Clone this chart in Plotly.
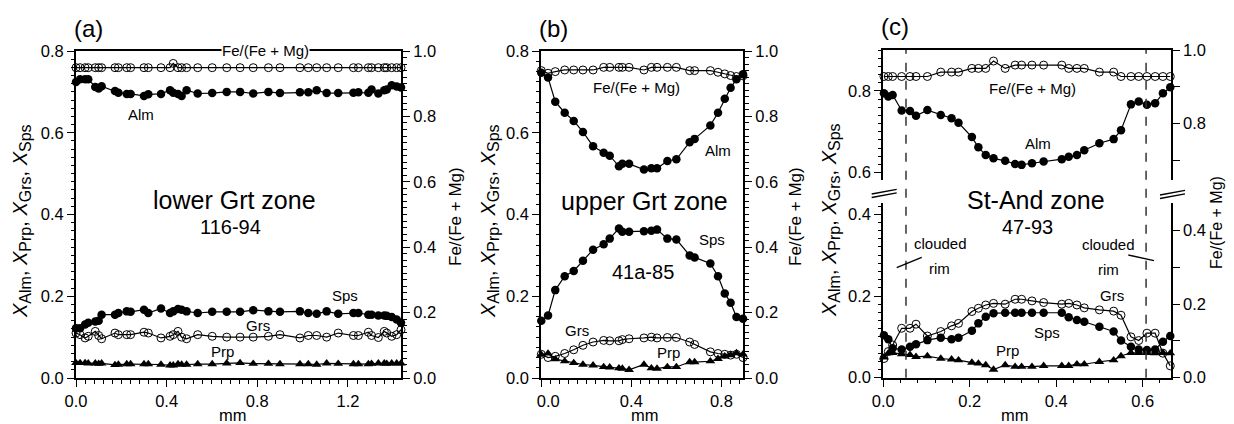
import numpy as np
import plotly.graph_objects as go

# the page body has an 8 px margin, so the figure is 8 px smaller than the window
OFF = 8
W, H = 1234 - OFF, 424 - OFF
FONT = "Liberation Sans, Arial, sans-serif"

# ---------------- data ----------------
# panel (a) lower Grt zone 116-94
x_a = [0.0, 0.018, 0.04, 0.054, 0.085, 0.1, 0.113, 0.172, 0.187, 0.224, 0.241, 0.3, 0.319, 0.375,
       0.415, 0.429, 0.45, 0.466, 0.488, 0.537, 0.601, 0.665, 0.724, 0.782, 0.849, 0.9, 0.988,
       1.025, 1.062, 1.106, 1.157, 1.224, 1.246, 1.29, 1.304, 1.334, 1.36, 1.371, 1.393, 1.415, 1.434]
alm_a = [0.724, 0.731, 0.731, 0.731, 0.712, 0.708, 0.714, 0.702, 0.698, 0.695,
         0.695, 0.690, 0.694, 0.695, 0.704, 0.698, 0.695, 0.690, 0.704, 0.696,
         0.697, 0.700, 0.700, 0.696, 0.700, 0.697, 0.699, 0.699, 0.704, 0.697,
         0.697, 0.698, 0.699, 0.698, 0.706, 0.696, 0.704, 0.706, 0.716, 0.713, 0.711]
sps_a = [0.122, 0.122, 0.131, 0.135, 0.138, 0.140, 0.155, 0.155, 0.159, 0.163,
         0.162, 0.167, 0.159, 0.170, 0.159, 0.163, 0.169, 0.167, 0.163, 0.159,
         0.162, 0.162, 0.162, 0.166, 0.163, 0.162, 0.163, 0.159, 0.157, 0.163,
         0.157, 0.159, 0.159, 0.155, 0.155, 0.153, 0.153, 0.152, 0.149, 0.143, 0.135]
grs_a = [0.110, 0.106, 0.098, 0.102, 0.114, 0.104, 0.096, 0.110, 0.106, 0.106,
         0.106, 0.112, 0.110, 0.098, 0.102, 0.106, 0.114, 0.100, 0.096, 0.106,
         0.102, 0.100, 0.100, 0.100, 0.102, 0.106, 0.098, 0.104, 0.104, 0.100,
         0.110, 0.104, 0.104, 0.112, 0.104, 0.099, 0.114, 0.110, 0.102, 0.106, 0.118]
prp_a = [0.037, 0.037, 0.037, 0.036, 0.036, 0.035, 0.036, 0.032, 0.033, 0.034,
         0.034, 0.034, 0.034, 0.033, 0.031, 0.031, 0.034, 0.033, 0.033, 0.034,
         0.034, 0.036, 0.037, 0.035, 0.035, 0.034, 0.034, 0.034, 0.033, 0.036,
         0.035, 0.034, 0.034, 0.034, 0.035, 0.036, 0.036, 0.035, 0.036, 0.036, 0.036]
fe_a = [0.949, 0.949, 0.949, 0.949, 0.949, 0.949, 0.949, 0.949, 0.949, 0.949,
        0.949, 0.949, 0.949, 0.949, 0.949, 0.962, 0.949, 0.949, 0.949, 0.949,
        0.949, 0.949, 0.949, 0.949, 0.949, 0.949, 0.949, 0.949, 0.949, 0.949,
        0.949, 0.949, 0.949, 0.949, 0.949, 0.949, 0.949, 0.949, 0.949, 0.949, 0.949]

# panel (b) upper Grt zone 41a-85
x_b = [0.0, 0.030, 0.062, 0.104, 0.144, 0.185, 0.230, 0.277, 0.304, 0.345, 0.360, 0.390, 0.456,
       0.489, 0.514, 0.560, 0.600, 0.659, 0.681, 0.751, 0.785, 0.815, 0.841, 0.867, 0.896]
alm_b = [0.747, 0.735, 0.676, 0.649, 0.629, 0.602, 0.567, 0.551, 0.544, 0.518, 0.524, 0.524, 0.510,
         0.513, 0.513, 0.531, 0.535, 0.577, 0.585, 0.618, 0.649, 0.683, 0.710, 0.731, 0.743]
sps_b = [0.140, 0.153, 0.215, 0.249, 0.262, 0.287, 0.314, 0.327, 0.341, 0.366, 0.358, 0.358, 0.359,
         0.360, 0.363, 0.341, 0.339, 0.300, 0.295, 0.280, 0.249, 0.207, 0.184, 0.149, 0.145]
grs_b = [0.058, 0.050, 0.053, 0.060, 0.069, 0.080, 0.088, 0.092, 0.091, 0.091, 0.094, 0.096, 0.098,
         0.100, 0.098, 0.099, 0.099, 0.088, 0.082, 0.064, 0.060, 0.058, 0.056, 0.058, 0.050]
prp_b = [0.057, 0.060, 0.046, 0.041, 0.037, 0.033, 0.031, 0.027, 0.026, 0.024, 0.023, 0.020, 0.033,
         0.024, 0.023, 0.027, 0.027, 0.039, 0.039, 0.041, 0.047, 0.053, 0.056, 0.061, 0.058]
fe_b = [0.940, 0.932, 0.937, 0.942, 0.942, 0.942, 0.942, 0.950, 0.950, 0.950, 0.950, 0.950, 0.942,
        0.950, 0.950, 0.950, 0.950, 0.940, 0.940, 0.940, 0.935, 0.930, 0.925, 0.922, 0.924]

# panel (c) St-And zone 47-93
x_c = [0.0015, 0.0116, 0.0216, 0.0425, 0.0618, 0.0757, 0.102, 0.133, 0.158, 0.174, 0.205, 0.220,
       0.237, 0.255, 0.282, 0.305, 0.320, 0.344, 0.371, 0.413, 0.429, 0.448, 0.465, 0.500, 0.533,
       0.550, 0.573, 0.591, 0.610, 0.629, 0.647, 0.664]
alm_c = [0.794, 0.786, 0.790, 0.752, 0.751, 0.739, 0.753, 0.741, 0.733, 0.722, 0.687, 0.662,
         0.643, 0.635, 0.629, 0.621, 0.619, 0.623, 0.627, 0.633, 0.639, 0.643, 0.655, 0.672, 0.682,
         0.704, 0.767, 0.774, 0.766, 0.770, 0.794, 0.809]
sps_c = [0.104, 0.094, 0.072, 0.069, 0.076, 0.082, 0.092, 0.098, 0.094, 0.098, 0.115, 0.133,
         0.149, 0.158, 0.159, 0.159, 0.159, 0.159, 0.159, 0.159, 0.148, 0.141, 0.137, 0.125, 0.113,
         0.091, 0.076, 0.069, 0.068, 0.069, 0.088, 0.102]
grs_c = [0.047, 0.064, 0.080, 0.121, 0.121, 0.131, 0.102, 0.113, 0.127, 0.133, 0.162, 0.170,
         0.178, 0.182, 0.180, 0.192, 0.192, 0.188, 0.184, 0.180, 0.182, 0.178, 0.171, 0.166, 0.163,
         0.153, 0.100, 0.091, 0.109, 0.109, 0.060, 0.029]
prp_c = [0.050, 0.060, 0.061, 0.058, 0.056, 0.051, 0.053, 0.047, 0.045, 0.043, 0.037, 0.035,
         0.031, 0.020, 0.031, 0.027, 0.027, 0.027, 0.029, 0.029, 0.029, 0.033, 0.033, 0.039, 0.043,
         0.053, 0.061, 0.061, 0.061, 0.060, 0.061, 0.060]
fe_c = [0.928, 0.928, 0.928, 0.928, 0.928, 0.928, 0.928, 0.940, 0.940, 0.940, 0.950, 0.950,
        0.950, 0.970, 0.950, 0.959, 0.959, 0.959, 0.959, 0.959, 0.950, 0.950, 0.950, 0.940, 0.940,
        0.928, 0.928, 0.928, 0.928, 0.928, 0.928, 0.928]
rim_bounds_c = [0.0525, 0.608]

# ---------------- helpers (window pixel -> paper fraction) ----------------
def PX(x):
    return (x - OFF) / W


def PY(y):
    return 1 - (y - OFF) / H


FILLED = dict(symbol="circle", size=8.5, color="black")
OPEN = dict(symbol="circle-open", size=8, color="black", line=dict(width=1, color="black"))
TRI = dict(symbol="triangle-up", size=8.5, color="black")

fig = go.Figure()


def add(xs, ys, xa, ya, marker):
    fig.add_trace(go.Scatter(x=xs, y=ys, xaxis=xa, yaxis=ya, mode="lines+markers",
                             line=dict(color="black", width=1.2), marker=marker,
                             cliponaxis=False, showlegend=False, hoverinfo="skip"))


add(x_a, fe_a, "x", "y2", OPEN)
add(x_a, alm_a, "x", "y", FILLED)
add(x_a, grs_a, "x", "y", OPEN)
add(x_a, sps_a, "x", "y", FILLED)
add(x_a, prp_a, "x", "y", TRI)

add(x_b, fe_b, "x2", "y4", OPEN)
add(x_b, alm_b, "x2", "y3", FILLED)
add(x_b, grs_b, "x2", "y3", OPEN)
add(x_b, sps_b, "x2", "y3", FILLED)
add(x_b, prp_b, "x2", "y3", TRI)

add(x_c, fe_c, "x3", "y6", OPEN)
add(x_c, alm_c, "x3", "y5", FILLED)
add(x_c, grs_c, "x4", "y7", OPEN)
add(x_c, sps_c, "x4", "y7", FILLED)
add(x_c, prp_c, "x4", "y7", TRI)
# empty trace so that the lower right-hand axis of panel (c) is drawn
fig.add_trace(go.Scatter(x=[], y=[], xaxis="x4", yaxis="y8", showlegend=False, hoverinfo="skip"))

TICKFONT = dict(family=FONT, size=16.5, color="black")


def ax(**kw):
    d = dict(showline=True, linecolor="black", linewidth=2, ticks="outside", tickcolor="black",
             tickwidth=1.3, ticklen=7, showgrid=False, zeroline=False, tickfont=TICKFONT,
             automargin=False)
    d.update(kw)
    return d


def lab(vals, every):
    return [("%.1f" % v) if (round(v / every, 6) % 1 == 0) else "" for v in vals]


def minor(lo, hi, step, ln=3.5):
    return dict(tickmode="array", tickvals=list(np.round(np.arange(lo, hi + 1e-9, step), 4)),
                ticklen=ln, ticks="outside", tickcolor="black", tickwidth=1, showgrid=False)


def xticks(hi, lab_every):
    v = list(np.round(np.arange(0, hi + 1e-9, 0.2), 2))
    t = lab(v, lab_every)
    return v, t


ya_dom = [PY(378), PY(51)]

# panel a
v, t = xticks(1.434, 0.4)
xa_dict = ax(domain=[PX(76), PX(401)], range=[0, 1.434], anchor="y", mirror=True,
             tickvals=v, ticktext=t, minor=minor(0, 1.434, 0.04))
yvals_l = list(np.round(np.arange(0, 0.8001, 0.1), 2))
yvals_r = list(np.round(np.arange(0, 1.0001, 0.1), 2))
ya_l = ax(domain=ya_dom, range=[0, 0.8], anchor="x", tickvals=yvals_l, ticktext=lab(yvals_l, 0.2),
          minor=minor(0, 0.8, 0.02))
ya_r = ax(range=[0, 1.0], anchor="x", overlaying="y", side="right", tickvals=yvals_r,
          ticktext=lab(yvals_r, 0.2), minor=minor(0, 1.0, 0.02))

# panel b
v, t = xticks(0.896, 0.4)
t[0] = "\u00a0\u00a0\u00a00.0"
xb_dict = ax(domain=[PX(541.3), PX(743)], range=[0, 0.896], anchor="y3", mirror=True,
             tickvals=v, ticktext=t, minor=minor(0, 0.896, 0.04))
yb_l = ax(domain=ya_dom, range=[0, 0.8], anchor="x2", tickvals=yvals_l, ticktext=lab(yvals_l, 0.2),
          minor=minor(0, 0.8, 0.025))
yb_r = ax(range=[0, 1.0], anchor="x2", overlaying="y3", side="right", tickvals=yvals_r,
          ticktext=lab(yvals_r, 0.2), minor=minor(0, 1.0, 0.02))

# panel c (broken axis)
cdom = [PX(883.3), PX(1170.7)]
XC_MAX = 0.665
up_lo, up_hi = 0.582, 0.9
lo_hi = 0.4277
v, t = xticks(XC_MAX, 0.2)
xc_top = dict(domain=cdom, range=[0, XC_MAX], anchor="y5", side="top", showline=True,
              linecolor="black", linewidth=2, ticks="", showticklabels=False, showgrid=False,
              zeroline=False, automargin=False)
xc_bot = ax(domain=cdom, range=[0, XC_MAX], anchor="y7", tickvals=v, ticktext=t,
            minor=minor(0, XC_MAX, 0.04))
uv_l = [0.6, 0.7, 0.8, 0.9]
uv_r = [0.7, 0.8, 0.9, 1.0]
lv_l = [0.0, 0.1, 0.2, 0.3, 0.4]
yc_ul = ax(domain=[PY(180), PY(50)], range=[up_lo, up_hi], anchor="x3", tickvals=uv_l,
           ticktext=lab(uv_l, 0.2), minor=minor(0.6, 0.9, 0.02))
yc_ur = ax(range=[up_lo / 0.9, 1.0], anchor="x3", overlaying="y5", side="right", tickvals=uv_r,
           ticktext=lab(uv_r, 0.2))
yc_ll = ax(domain=[PY(377.7), PY(203)], range=[0, lo_hi], anchor="x4", tickvals=lv_l,
           ticktext=lab(lv_l, 0.2), minor=minor(0, 0.42, 0.02))
yc_lr = ax(range=[0, lo_hi / 0.9], anchor="x4", overlaying="y7", side="right", tickvals=lv_l,
           ticktext=lab(lv_l, 0.2))

fig.update_layout(
    width=W, height=H, margin=dict(l=0, r=0, t=0, b=0, autoexpand=False),
    paper_bgcolor="white", plot_bgcolor="rgba(0,0,0,0)", showlegend=False,
    font=dict(family=FONT, color="black"),
    xaxis=xa_dict, yaxis=ya_l, yaxis2=ya_r,
    xaxis2=xb_dict, yaxis3=yb_l, yaxis4=yb_r,
    xaxis3=xc_top, yaxis5=yc_ul, yaxis6=yc_ur,
    xaxis4=xc_bot, yaxis7=yc_ll, yaxis8=yc_lr,
)

# ---------------- annotations ----------------
ann = []


def T(text, x, y, size=15, angle=0, bg=None):
    d = dict(text=text, x=PX(x), y=PY(y), xref="paper", yref="paper", showarrow=False,
             font=dict(family=FONT, size=size, color="black"), textangle=angle,
             xanchor="center", yanchor="middle")
    if bg:
        d["bgcolor"] = bg
        d["borderpad"] = 0
    ann.append(d)


def S(s):
    return "<sub><span style='font-size:16px'>%s</span></sub>" % s


ytitle = "<i>X</i>%s, <i>X</i>%s, <i>X</i>%s, <i>X</i>%s" % (S("Alm"), S("Prp"), S("Grs"), S("Sps"))

# panel a
T("(a)", 88, 28, 24)
T("Fe/(Fe + Mg)", 265, 51, 15, bg="white")
T("Alm", 141, 115)
T("lower Grt zone", 234, 200, 25)
T("116-94", 230, 227, 20)
T("Sps", 345, 295)
T("Grs", 258, 325)
T("Prp", 222, 351)
T(ytitle, 22, 221, 20, -90)
T("Fe/(Fe + Mg)", 455, 217, 17, -90)
T("mm", 233, 415, 16.5)
# panel b
T("(b)", 553, 28, 24)
T("Fe/(Fe + Mg)", 636, 87)
T("Alm", 718, 150)
T("upper Grt zone", 644, 201, 25)
T("Sps", 712, 239)
T("41a-85", 643, 272, 20)
T("Grs", 577, 330)
T("Prp", 668, 352)
T(ytitle, 490, 221, 20, -90)
T("Fe/(Fe + Mg)", 795, 217, 17, -90)
T("mm", 645, 415, 16.5)
# panel c
T("(c)", 895, 27, 24)
T("Fe/(Fe + Mg)", 1032, 88)
T("Alm", 1038, 144)
T("St-And zone", 1036, 200, 25)
T("47-93", 1027, 227, 20)
T("clouded", 940, 243)
T("rim", 939, 268)
T("clouded", 1108, 244)
T("rim", 1108, 269)
T("Grs", 1112, 295)
T("Sps", 1047, 332)
T("Prp", 1007, 350)
T(ytitle, 830, 220, 20, -90)
T("Fe/(Fe + Mg)", 1216, 223, 16, -90)
T("mm", 1015, 415, 16.5)

shapes = []


def L(x0, y0, x1, y1, w=1.3, dash=None):
    d = dict(type="line", xref="paper", yref="paper", x0=PX(x0), y0=PY(y0), x1=PX(x1), y1=PY(y1),
             line=dict(color="black", width=w))
    if dash:
        d["line"]["dash"] = dash
    shapes.append(d)


# dashed rim boundaries
for xb in rim_bounds_c:
    shapes.append(dict(type="line", xref="x4", yref="paper", x0=xb, x1=xb, y0=PY(377.7), y1=PY(50),
                       line=dict(color="#333333", width=1.5, dash="dash")))
# clouded/rim separators
L(896.7, 267.7, 921.7, 257.3)
L(1128.3, 255, 1154, 260.7)
# axis break marks
L(871.7, 194, 896.7, 189.3)
L(871.7, 197.5, 896.7, 192.8)
L(1160, 195, 1185, 190.3)
L(1160, 198.5, 1185, 193.8)

fig.update_layout(annotations=ann, shapes=shapes)
fig.write_html("out.html")
